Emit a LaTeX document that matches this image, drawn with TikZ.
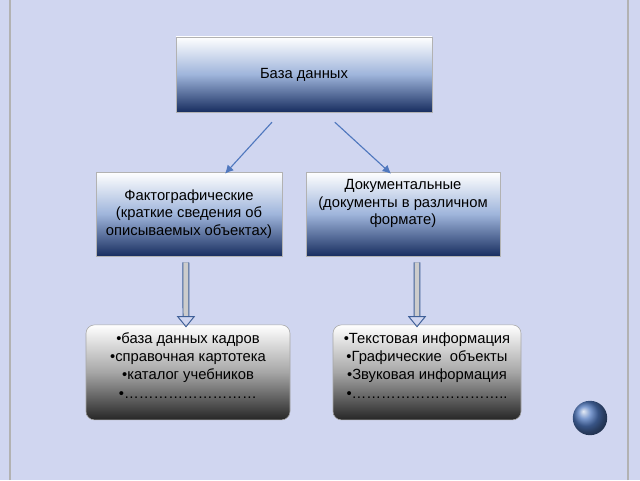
\documentclass[tikz,border=0pt]{standalone}
\usepackage{fontspec}
\setmainfont{Liberation Sans}
\usetikzlibrary{calc,arrows.meta}
\definecolor{paper}{RGB}{208,214,240}
\definecolor{navy}{RGB}{24,46,96}
\definecolor{steel}{RGB}{80,120,190}
\tikzset{
  topbox/.style={draw=gray!60, top color=white, bottom color=navy, middle color=steel!55,
    font=\fontsize{10.5}{12.5}\selectfont, align=center, inner sep=2pt},
  listbox/.style={draw=gray!70, rounded corners=6pt, top color=white, bottom color=black!85,
    middle color=gray!70, font=\fontsize{10.5}{13}\selectfont, align=center, inner sep=2pt},
  thinarrow/.style={draw=steel, line width=0.8pt, -{Latex[length=6pt,width=6pt]}},
  fatarrow/.style={draw=steel!80!black, double=gray!40, double distance=3.5pt, line width=0.7pt,
    -{Triangle[open,length=8pt,width=13pt]}}
}
\begin{document}
\begin{tikzpicture}
  \useasboundingbox (0,0) rectangle (16,12);
  % background
  \fill[paper] (0,0) rectangle (16,12);
  \draw[gray!60, line width=1pt] (0.25,0) -- (0.25,12);
  \draw[gray!60, line width=1pt] (15.7,0) -- (15.7,12);
  % boxes
  \node[topbox, minimum width=6.4cm, minimum height=1.875cm] (db) at (7.6,10.14) {База данных};
  \node[topbox, minimum width=4.65cm, minimum height=2.1cm] (fact) at (4.725,6.65)
    {Фактографические\\(краткие сведения об\\описываемых объектах)};
  \node[topbox, minimum width=4.85cm, minimum height=2.1cm, text depth=0.6cm] (doc) at (10.075,6.65)
    {Документальные\\(документы в различном\\формате)};
  \node[listbox, minimum width=5.1cm, minimum height=2.375cm, text depth=0.35cm] (factlist) at (4.7,2.69)
    {•база данных кадров\\•справочная картотека\\•каталог учебников\\•………………………};
  \node[listbox, minimum width=4.7cm, minimum height=2.375cm, text depth=0.35cm] (doclist) at (10.675,2.69)
    {•Текстовая информация\\•Графические \ объекты\\•Звуковая информация\\•…………………………..};
  % connectors
  \draw[thinarrow] ($(db.south)+(-0.8,-0.25)$) -- ($(fact.north)+(0.9,-0.05)$);
  \draw[thinarrow] ($(db.south)+(0.77,-0.25)$) -- ($(doc.north)+(-0.3,-0.05)$);
  \draw[fatarrow] ($(fact.south)+(-0.08,-0.15)$) -- ($(factlist.north)+(-0.05,-0.07)$);
  \draw[fatarrow] ($(doc.south)+(0.35,-0.15)$) -- ($(doclist.north)+(-0.25,-0.07)$);
  % corner button
  \shade[ball color=steel] (14.75,1.55) circle (0.43);
\end{tikzpicture}
\end{document}
